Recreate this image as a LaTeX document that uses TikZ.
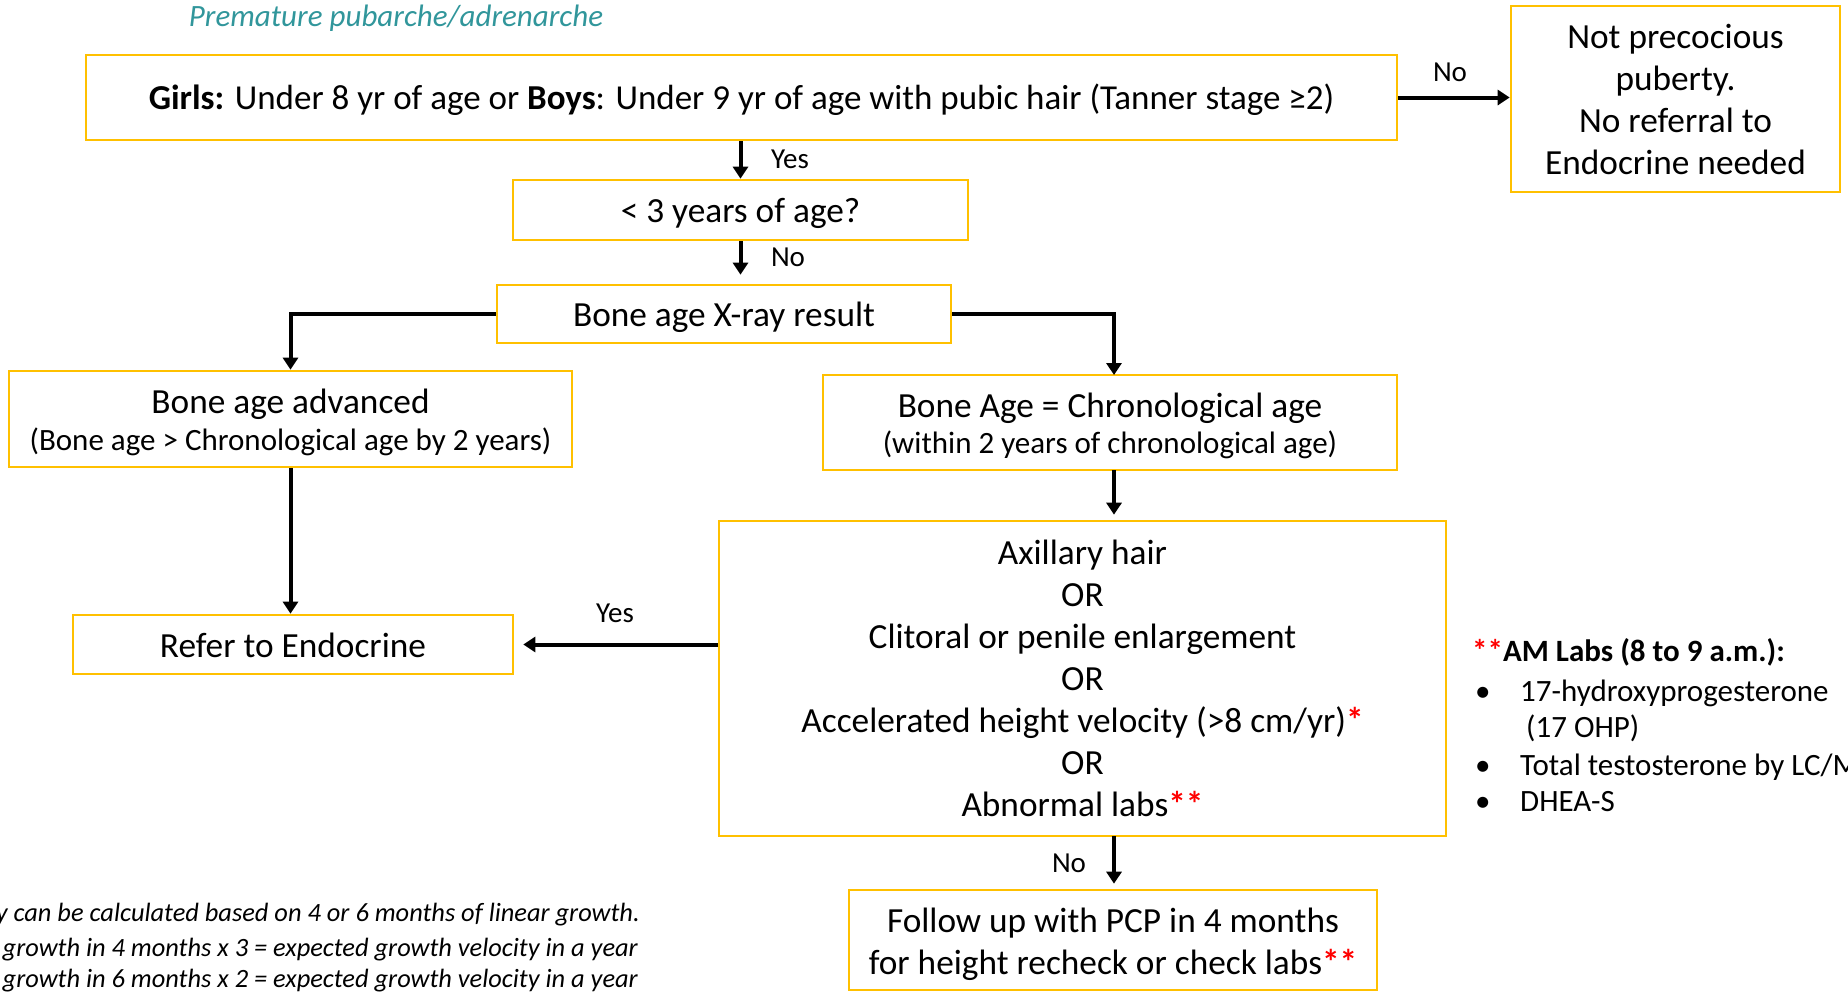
\documentclass[tikz,border=0pt]{standalone}
\usepackage{fontspec}
\setmainfont{Carlito}
\usetikzlibrary{arrows.meta}
\definecolor{boxc}{HTML}{FFC000}
\definecolor{teal}{HTML}{31969B}
\definecolor{astc}{HTML}{FF0000}
\newcommand{\redast}{\textcolor{astc}{\textbf{*}}}
\newcommand{\dn}[2]{\raisebox{0pt}[\dimexpr\height+#1\relax]{#2}}
\tikzset{
  fbox/.style={draw=boxc, line width=2.6pt, align=center, inner sep=0pt, font=\fontsize{35.3}{42}\selectfont},
  arr/.style={line width=4pt, -{Triangle[length=12pt,width=15pt]}},
  lbl/.style={font=\fontsize{29}{34}\selectfont, inner sep=0pt},
  note/.style={font=\fontsize{31}{37}\selectfont, anchor=base west, inner sep=0pt},
  foot/.style={font=\fontsize{26.4}{32}\selectfont\itshape, anchor=base east, inner sep=0pt}
}
\begin{document}
\begin{tikzpicture}[x=1pt,y=-1pt]
\useasboundingbox (0,0) rectangle (1848,996);
\node[font=\fontsize{31}{36}\selectfont\itshape, text=teal, inner sep=0pt] (title) at (396,18) {Premature pubarche/adrenarche};

\node[fbox, minimum width=1311pt, minimum height=85pt, font=\fontsize{35}{42}\selectfont] (main) at (741.5,97.5)
  {\dn{5pt}{\textbf{Girls:} Under 8 yr of age or \textbf{Boys}: Under 9 yr of age with pubic hair (Tanner stage ≥2)}};
\node[fbox, minimum width=329pt, minimum height=186pt] (np) at (1675.5,99)
  {Not precocious\\puberty.\\No referral to\\Endocrine needed};
\node[fbox, minimum width=455pt, minimum height=60pt] (lt3) at (740.5,210) {\dn{7pt}{< 3 years of age?}};
\node[fbox, minimum width=454pt, minimum height=58pt] (xray) at (724,314) {\dn{7pt}{Bone age X-ray result}};
\node[fbox, minimum width=563pt, minimum height=96pt] (adv) at (290.5,419)
  {\dn{6pt}{Bone age advanced}\\[-5pt]{\fontsize{31}{34}\selectfont (Bone age > Chronological age by 2 years)}};
\node[fbox, minimum width=574pt, minimum height=95pt] (eq) at (1110,422.5)
  {\dn{7pt}{Bone Age = Chronological age}\\[-6pt]{\fontsize{31}{34}\selectfont (within 2 years of chronological age)}};
\node[fbox, minimum width=727pt, minimum height=315pt] (ax) at (1082.5,678.5)
  {Axillary hair\\OR\\Clitoral or penile enlargement\\OR\\Accelerated height velocity (>8 cm/yr)\redast\\OR\\Abnormal labs\redast\redast};
\node[fbox, minimum width=440pt, minimum height=59pt] (ref) at (293,644.5) {\dn{2.5pt}{Refer to Endocrine}};
\node[fbox, minimum width=528pt, minimum height=100pt] (fu) at (1113,940)
  {\dn{9pt}{Follow up with PCP in 4 months}\\for height recheck or check labs\redast\redast};

\coordinate (eqn) at (1114,375);
\coordinate (eqs) at (1114,470);
\coordinate (axs) at (1114,836);

\draw[arr] (main.east) -- (np.west |- main.east);
\node[lbl] (lno1) at (1450,72) {No};
\draw[arr] (lt3.north |- main.south) -- (lt3.north);
\node[lbl] (lyes1) at (790,159) {Yes};
\draw[arr, shorten >=9pt] (lt3.south) -- (lt3.south |- xray.north);
\node[lbl] (lno2) at (788,257) {No};
\draw[arr] (xray.west) -| (adv.north);
\draw[arr] (xray.east) -| (eqn);
\draw[arr] (adv.south) -- (adv.south |- ref.north);
\draw[arr, shorten >=5pt] (eqs) -- (eqs |- ax.north);
\draw[arr, shorten >=9pt] (ax.west |- ref.east) -- (ref.east);
\node[lbl] (lyes2) at (615,613) {Yes};
\draw[arr, shorten >=5pt] (axs) -- (axs |- fu.north);
\node[lbl] (lno3) at (1069,863) {No};

\node[note] (n0) at (1472,661) {\redast\redast\textbf{AM Labs (8 to 9 a.m.):}};
\node[note] (n1) at (1472,701) {\makebox[48pt][l]{\hspace*{3pt}•}17-hydroxyprogesterone};
\node[note] (n2) at (1472,737) {\hspace*{54pt}(17 OHP)};
\node[note] (n3) at (1472,775) {\makebox[48pt][l]{\hspace*{3pt}•}Total testosterone by LC/M};
\node[note] (n4) at (1472,811) {\makebox[48pt][l]{\hspace*{3pt}•}DHEA-S};

\node[foot] (f1) at (640,921) {y can be calculated based on 4 or 6 months of linear growth.};
\node[foot] (f2) at (638,956) {growth in 4 months x 3 = expected growth velocity in a year};
\node[foot] (f3) at (638,987) {growth in 6 months x 2 = expected growth velocity in a year};
\end{tikzpicture}
\end{document}
